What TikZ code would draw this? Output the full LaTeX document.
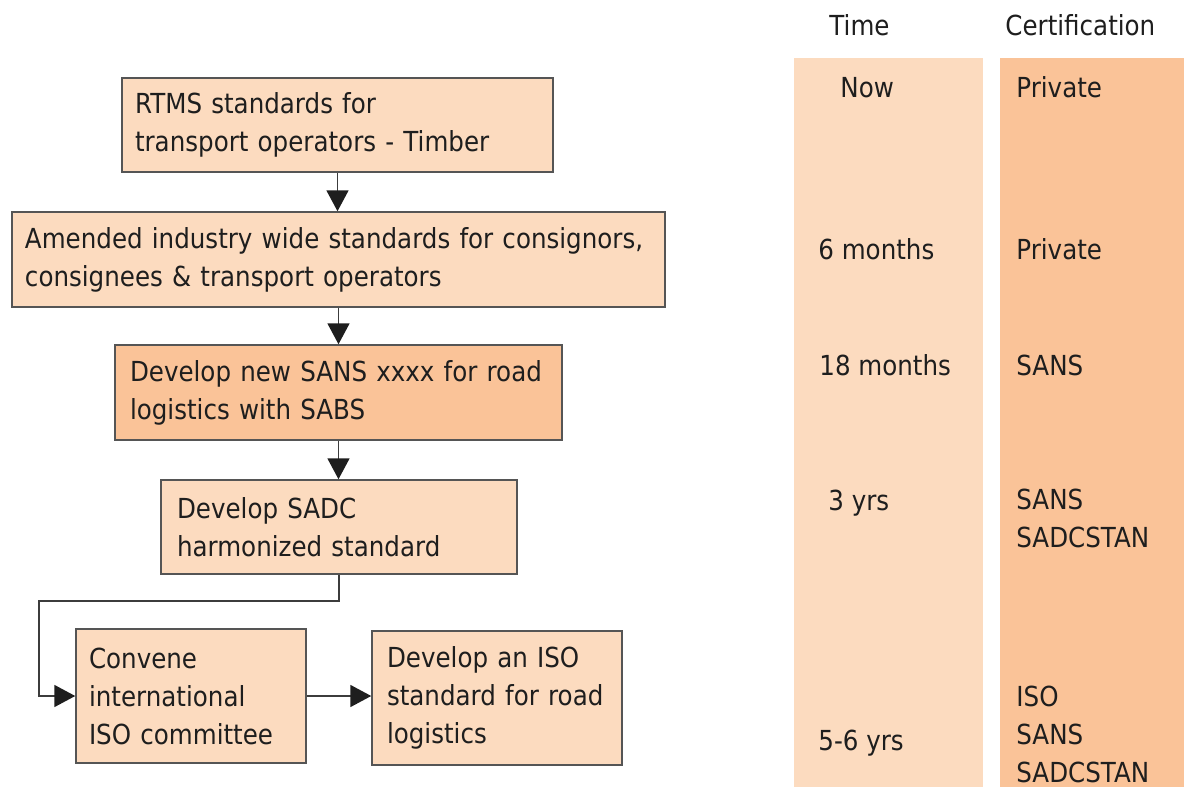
\documentclass[tikz,border=0pt]{standalone}
\usepackage{fontspec}
\setmainfont{DejaVu Sans}[FakeStretch=0.89]
\usetikzlibrary{arrows.meta}
\definecolor{peachL}{RGB}{252,219,191}
\definecolor{peachD}{RGB}{250,195,152}
\definecolor{edgeC}{RGB}{85,85,85}
\definecolor{lineC}{RGB}{60,60,60}
\definecolor{inkC}{RGB}{30,30,30}
\begin{document}
\begin{tikzpicture}[x=0.5pt,y=-0.5pt,
  stepbox/.style={draw=edgeC, line width=0.75pt, fill=peachL, rectangle, align=left, inner ysep=0pt, font=\fontsize{13.8}{19}\selectfont, text=inkC},
  flow/.style={draw=lineC, line width=0.9pt, -{Triangle[length=10.5pt,width=11pt,color=inkC]}},
  lbl/.style={font=\fontsize{13.8}{19}\selectfont, text=inkC, inner sep=0pt, align=left}]
\useasboundingbox (0,0) rectangle (1184,787);
\fill[peachL] (794,58) rectangle (983,787);
\fill[peachD] (1000,58) rectangle (1184,787);

\node[stepbox, minimum width=215.5pt, minimum height=47pt, inner xsep=6.5pt, text width=202.5pt] (b1) at (337.5,125) {RTMS standards for\\transport operators - Timber};
\node[stepbox, minimum width=326.5pt, minimum height=47.5pt, inner xsep=6.5pt, text width=313.5pt] (b2) at (338.5,259.5) {Amended industry wide standards for consignors,\\consignees \& transport operators};
\node[stepbox, fill=peachD, minimum width=223.5pt, minimum height=47.5pt, inner xsep=7.5pt, text width=208.5pt] (b3) at (338.5,392.5) {Develop new SANS xxxx for road\\logistics with SABS};
\node[stepbox, minimum width=178pt, minimum height=47pt, inner xsep=8pt, text width=162pt] (b4) at (339,527) {Develop SADC\\harmonized standard};
\node[stepbox, minimum width=115pt, minimum height=67pt, inner xsep=6.5pt, text width=102pt] (b5) at (191,696) {Convene\\international\\ISO committee};
\node[stepbox, minimum width=125pt, minimum height=67pt, inner xsep=7.5pt, text width=110pt] (b6) at (497,698) {Develop an ISO\\standard for road\\logistics};

\coordinate (k) at (39,601);
\draw[flow] (b1.south) -- (b1.south |- b2.north);
\draw[flow] (b2.south) -- (b2.south |- b3.north);
\draw[flow] (b3.south) -- (b3.south |- b4.north);
\draw[flow] (b4.south) |- (k) |- (b5.west);
\draw[flow] (b5.east) -- (b5.east -| b6.west);

\node[lbl, anchor=base west] (tH) at (829,35) {Time};
\node[lbl, anchor=base west] (cH) at (1005,35) {Certification};
\node[lbl, anchor=base west] (t1) at (840,97) {Now};
\node[lbl, anchor=base west] (t2) at (818,259) {6 months};
\node[lbl, anchor=base west] (t3) at (819,375) {18 months};
\node[lbl, anchor=base west] (t4) at (828,510) {3 yrs};
\node[lbl, anchor=base west] (t5) at (818,750) {5-6 yrs};
\node[lbl, anchor=base west] (c1) at (1016,97) {Private};
\node[lbl, anchor=base west] (c2) at (1016,259) {Private};
\node[lbl, anchor=base west] (c3) at (1016,375) {SANS};
\node[lbl, anchor=base west] (c4) at (1016,547) {SANS\\SADCSTAN};
\node[lbl, anchor=base west] (c5) at (1016,782) {ISO\\SANS\\SADCSTAN};
\end{tikzpicture}
\end{document}
